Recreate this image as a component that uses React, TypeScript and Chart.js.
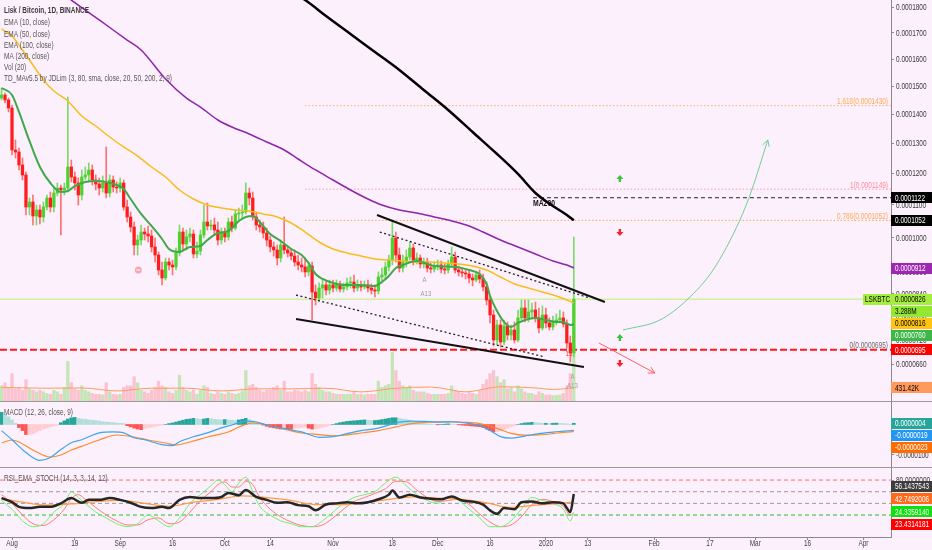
import React, { useEffect, useRef } from "react";
import { Chart, registerables, LinearScale } from "chart.js";

Chart.register(...registerables);

class SqrtScale extends LinearScale {
  static id = "sqrt";
  static defaults = LinearScale.defaults;
  getPixelForValue(value: number) {
    if (value === null || value === undefined || Number.isNaN(value)) return NaN;
    const a = Math.sqrt(this.min);
    const b = Math.sqrt(this.max);
    return this.getPixelForDecimal((Math.sqrt(Math.max(0, value)) - a) / (b - a));
  }
  getValueForPixel(pixel: number) {
    const a = Math.sqrt(this.min);
    const b = Math.sqrt(this.max);
    const s = a + this.getDecimalForPixel(pixel) * (b - a);
    return s * s;
  }
}
Chart.register(SqrtScale);

const FONT = "'Liberation Sans', Arial, sans-serif";
Chart.defaults.font.family = FONT;
Chart.defaults.font.size = 8;

const BG = "#fcf0fc";

// ---------- x axis (days since 1 Aug 2019) ----------
const X_MIN = -3.44;
const X_MAX = 251.9;
const X_TICK_DAYS = [0, 18, 31, 46, 61, 74, 92, 109, 122, 137, 153, 165, 184, 200, 213, 228, 244];
const X_TICK_LABELS = ["Aug", "19", "Sep", "16", "Oct", "14", "Nov", "18", "Dec", "16", "2020", "13", "Feb", "17", "Mar", "16", "Apr"];

// ---------- LSK/BTC daily candles (satoshis) ----------
const FIRST_DAY = -3;
const FIRST_OPEN = 14573;
const CLOSES = [
  14680, 14501, 14217, 12769, 12703, 12272, 11947, 10931, 11087, 10654,
  10839, 10623, 10931, 11212, 10931, 11369, 11528, 11464, 11528, 12207,
  11882, 11688, 11306, 11882, 11947, 12109, 11785, 11656, 11528, 11688,
  11369, 11785, 11559, 11528, 11688, 10931, 10623, 10320, 9785, 9932,
  10169, 10110, 10051, 9727, 9493, 9065, 8841, 9292, 9206, 9150,
  9552, 10169, 9815, 10021, 10110, 9522, 9610, 10080, 10471, 10350,
  10380, 10229, 9932, 10169, 10021, 10471, 10289, 10716, 10747, 10777,
  11369, 11212, 10623, 10380, 10320, 10140, 9932, 9727, 9639, 9406,
  9785, 9639, 9552, 9464, 9292, 9206, 9150, 9009, 9178, 8454,
  8291, 8563, 8648, 8508, 8648, 8563, 8675, 8535, 8593, 8703,
  8730, 8563, 8648, 8593, 8648, 8563, 8508, 8481, 8869, 8925,
  9150, 9349, 9991, 9493, 9121, 9292, 9435, 9697, 9349, 9406,
  9235, 9292, 9121, 9093, 9178, 9206, 9093, 9065, 9235, 9435,
  9065, 9009, 8981, 8953, 8841, 8785, 8925, 8813, 8593, 8237,
  7839, 7196, 7579, 7146, 7553, 7322, 7449, 7196, 7761, 8024,
  7761, 7919, 7971, 7761, 7501, 7839, 7631, 7527, 7657, 7709,
  7761, 7605, 7121, 6873, 8260,
];
const HIGHS = [
  14932, 14752, 14573, 14323, 13108, 12837, 12503, 12044, 11212, 11306,
  10993, 10993, 11087, 11306, 11401, 11528, 11688, 11623, 11688, 14608,
  12437, 12044, 11850, 12109, 12207, 12338, 12272, 11947, 11850, 11915,
  12871, 11947, 11915, 11721, 11850, 11785, 11149, 10777, 10471, 10080,
  10380, 10289, 10350, 10229, 9991, 9581, 9292, 9406, 9406, 9349,
  9697, 10380, 10289, 10229, 10289, 10229, 9873, 10229, 10993, 11056,
  10531, 10593, 10471, 10289, 10289, 10593, 10654, 10839, 10900, 10993,
  11688, 11528, 11401, 10777, 10531, 10471, 10289, 10051, 9873, 9785,
  9932, 10623, 9756, 9668, 9639, 9493, 9406, 9406, 9292, 9292,
  8648, 8703, 8785, 8785, 8785, 8785, 8785, 8758, 8703, 8841,
  8869, 8925, 8785, 8758, 8758, 8785, 8675, 8648, 9009, 9121,
  9292, 9493, 10531, 10169, 9697, 9493, 9639, 9873, 9815, 9552,
  9493, 9406, 9406, 9263, 9292, 9349, 9320, 9235, 9349, 9727,
  9581, 9178, 9121, 9093, 9065, 8953, 9009, 9065, 8953, 8730,
  8345, 7971, 7709, 7709, 7709, 7657, 7579, 7657, 7971, 8237,
  8237, 8237, 8157, 8184, 8024, 8077, 8024, 7761, 7813, 7866,
  7971, 7919, 7709, 7297, 10021,
];
const LOWS = [
  14501, 14394, 14077, 12602, 12503, 12109, 11785, 10685, 10685, 10380,
  10380, 10410, 10471, 10839, 10777, 10777, 11275, 10080, 11306, 11401,
  11721, 11464, 10993, 11149, 11785, 11721, 11623, 11464, 11306, 11401,
  11212, 11243, 11401, 11369, 11401, 10839, 10471, 10169, 9493, 9493,
  9785, 9932, 9873, 9581, 9292, 8925, 8648, 8785, 9065, 8925,
  9065, 9464, 9639, 9639, 9873, 9406, 9406, 9493, 9991, 10229,
  10229, 10080, 9785, 9815, 9873, 9932, 10169, 10229, 10531, 10593,
  10716, 10993, 10531, 10229, 10169, 9991, 9756, 9581, 9464, 9206,
  9292, 9522, 9435, 9349, 9178, 9065, 9009, 8869, 8897, 7709,
  8104, 8184, 8291, 8372, 8399, 8454, 8481, 8454, 8454, 8508,
  8563, 8454, 8481, 8481, 8535, 8454, 8399, 8318, 8399, 8703,
  8813, 9037, 9206, 9292, 9009, 9009, 9150, 9349, 9206, 9235,
  9121, 9121, 9009, 8981, 9009, 9065, 8981, 8953, 8981, 9150,
  8981, 8897, 8869, 8813, 8703, 8620, 8730, 8703, 8481, 8104,
  7631, 7046, 7071, 7021, 7071, 7196, 7196, 7121, 7146, 7709,
  7657, 7657, 7761, 7657, 7373, 7449, 7501, 7449, 7449, 7579,
  7631, 7527, 6997, 6654, 6775,
];
const VOLUMES_K = [
  500, 600, 450, 900, 400, 450, 350, 700, 400, 350,
  300, 350, 300, 250, 220, 350, 300, 220, 450, 1300,
  600, 400, 350, 500, 350, 300, 250, 220, 220, 200,
  600, 300, 220, 200, 220, 450, 500, 500, 800, 600,
  350, 300, 250, 350, 450, 650, 500, 450, 300, 250,
  350, 850, 450, 350, 300, 350, 220, 350, 500, 450,
  250, 220, 300, 250, 220, 300, 250, 220, 250, 330,
  1000, 500, 550, 450, 350, 300, 350, 350, 450, 500,
  350, 650, 300, 300, 350, 330, 300, 350, 300, 900,
  550, 450, 350, 300, 300, 250, 220, 220, 220, 220,
  220, 300, 220, 220, 200, 220, 220, 220, 650, 450,
  500, 550, 1600, 1000, 650, 500, 450, 500, 350, 300,
  300, 300, 250, 220, 220, 220, 220, 220, 250, 500,
  350, 300, 250, 220, 300, 250, 220, 350, 550, 700,
  900, 1000, 800, 600, 700, 400, 450, 300, 500, 400,
  300, 250, 250, 200, 300, 250, 200, 200, 180, 180,
  200, 250, 500, 900, 3288,
];
const VOLMA_DAYS = [-3, 10, 20, 30, 40, 50, 60, 70, 80, 90, 100, 110, 120, 130, 140, 150, 155, 161];
const VOLMA_K = [450, 420, 430, 330, 420, 420, 330, 400, 400, 420, 300, 420, 460, 300, 470, 430, 380, 431.42];

// ---------- moving averages (satoshis) ----------
const EMA10_DAYS = [-3, 0, 2, 5, 8, 11, 14, 16, 18, 21, 24, 27, 30, 32, 34, 37, 40, 43, 45, 48, 51, 54, 56, 59, 62, 65, 67, 69, 71, 74, 77, 80, 83, 85, 87, 89, 92, 95, 100, 104, 106, 108, 110, 112, 116, 121, 127, 131, 134, 136, 137, 139, 141, 143, 145, 147, 150, 153, 156, 158, 160, 161];
const EMA10_SATS = [14932, 14680, 14077, 13074, 12207, 11688, 11401, 11432, 11591, 11721, 11753, 11721, 11623, 11496, 11180, 10716, 10350, 9962, 9668, 9581, 9727, 9756, 9932, 10140, 10199, 10501, 10623, 10654, 10471, 10110, 9903, 9668, 9493, 9263, 8953, 8813, 8703, 8648, 8648, 8620, 8730, 8897, 9121, 9206, 9320, 9178, 9150, 9065, 8953, 8675, 8345, 7945, 7657, 7527, 7631, 7709, 7761, 7709, 7657, 7657, 7579, 7600];
const EMA50_DAYS = [-3, 0, 3, 6, 9, 12, 16, 20, 24, 28, 32, 36, 40, 44, 48, 52, 56, 60, 64, 68, 72, 76, 80, 84, 88, 92, 96, 100, 104, 108, 112, 116, 120, 124, 128, 132, 136, 140, 144, 148, 152, 156, 159, 161];
const EMA50_SATS = [17148, 16877, 16341, 15778, 15223, 14824, 14465, 13936, 13587, 13210, 12871, 12569, 12207, 11882, 11464, 11180, 10993, 10900, 10839, 10808, 10716, 10623, 10441, 10169, 9873, 9668, 9552, 9464, 9378, 9349, 9320, 9292, 9292, 9263, 9235, 9178, 9065, 8869, 8675, 8563, 8454, 8345, 8237, 8160];
const EMA100_DAYS = [14, 17, 25, 33, 37, 44, 50, 54, 59, 63, 68, 73, 78, 82, 87, 92, 97, 102, 106, 111, 116, 121, 126, 131, 135, 140, 145, 150, 155, 159, 161];
const EMA100_SATS = [18613, 18290, 17500, 16720, 16341, 15259, 14570, 14251, 13795, 13552, 13313, 13040, 12769, 12470, 12109, 11785, 11464, 11180, 10993, 10839, 10747, 10623, 10501, 10350, 10169, 9932, 9727, 9522, 9320, 9206, 9120];
const MA200_DAYS = [83, 84, 90, 97, 104, 111, 118, 125, 132, 139, 145, 150, 155, 159, 161];
const MA200_SATS = [18371, 18290, 17655, 16952, 16266, 15593, 14860, 14147, 13380, 12636, 11980, 11369, 10962, 10685, 10520];

// ---------- drawings ----------
const FIB_START_DAY = 84;
const FIB_1618 = 14300;
const FIB_1 = 11490;
const FIB_0786 = 10520;
const FIB_0 = 6950;
const LAST_PRICE = 8260;
const MA200_MARK = 11220;
const MA200_MARK_START = 149.3;
const UPPER_SOLID_DAYS = [104.6, 169.9];
const UPPER_SOLID_SATS = [10685, 8184];
const LOWER_SOLID_DAYS = [81.4, 163.9];
const LOWER_SOLID_SATS = [7735, 6533];
const UPPER_DOTTED_DAYS = [105.4, 165.6];
const UPPER_DOTTED_SATS = [10169, 8291];
const LOWER_DOTTED_DAYS = [81.4, 152.7];
const LOWER_DOTTED_SATS = [8372, 6775];
const GREEN_CURVE_DAYS = [175.1, 185.7, 193.4, 200.9, 208.6, 212, 216.6];
const GREEN_CURVE_SATS = [7449, 7709, 8237, 9065, 10531, 11464, 13108];
const RED_ARROW_DAYS = [168.2, 184.2];
const RED_ARROW_SATS = [7121, 6390];
const MARKER_DAY = 174.2;
const MARKERS_UP = [11817, 7247];
const MARKERS_DOWN = [10169, 6630];
// small TD-indicator annotations: [day, price, text]
const TD_NOTES_DAYS = [118.2, 118.6, 159.6, 160.6, 160.6];
const TD_NOTES_SATS = [8790, 8400, 6860, 6300, 6080];
const TD_NOTES_TEXT = ["A", "A13", "13", "A", "A13"];
const SELL_DOT_DAY = 36.2;
const SELL_DOT_SATS = 9065;
const MAIN_TICKS = [18000, 17000, 16000, 15000, 14000, 13000, 12000, 11000, 10000, 9000, 8400, 7800, 7200, 6600];

// ---------- MACD (satoshis) ----------
const MACD_DAYS = [-3, 0, 4, 8, 11, 14, 17, 20, 22, 25, 29, 32, 35, 38, 40, 43, 46, 48, 52, 56, 60, 63, 67, 70, 73, 77, 80, 83, 88, 92, 96, 100, 105, 110, 114, 118, 122, 126, 130, 134, 137, 140, 143, 147, 151, 155, 158, 161];
const MACD_SATS = [-200, -500, -919, -1177, -1081, -823, -597, -500, -403, -274, -242, -274, -435, -500, -565, -661, -694, -565, -403, -274, -113, -16, 113, 81, -16, -113, -177, -242, -420, -400, -300, -200, -120, 50, 110, 100, 80, 90, 50, -30, -200, -400, -450, -380, -300, -250, -220, -190];
const SIGNAL_DAYS = [-3, 0, 2, 6, 11, 14, 17, 21, 25, 30, 35, 39, 44, 47, 51, 56, 62, 65, 69, 73, 79, 83, 88, 92, 96, 100, 105, 110, 114, 118, 122, 126, 130, 134, 137, 140, 143, 147, 151, 155, 158, 161];
const SIGNAL_SATS = [-607, -508, -574, -836, -1066, -1000, -836, -672, -508, -344, -410, -508, -607, -672, -574, -410, -246, -82, 49, -16, -180, -279, -330, -370, -340, -280, -200, -80, 20, 70, 85, 85, 70, 30, -50, -170, -290, -350, -340, -300, -260, -230];
const HIST_SATS = [
  400, 330, 250, 150, 40, -100, -200, -330, -330, -300,
  -250, -200, -150, -120, -80, -50, -30, 60, 120, 180,
  220, 230, 200, 180, 170, 150, 140, 130, 110, 90,
  80, 70, 60, 50, 40, 30, -40, -80, -120, -150,
  -170, -140, -110, -90, -60, -40, -20, 0, 30, 50,
  80, 110, 140, 170, 180, 200, 190, 170, 180, 200,
  190, 170, 160, 150, 160, 150, 140, 130, 150, 170,
  200, 160, 120, 80, 40, -20, -60, -90, -110, -130,
  -150, -120, -140, -150, -130, -110, -100, -80, -120, -150,
  -140, -120, -90, -60, -30, 0, 30, 60, 80, 100,
  110, 120, 130, 140, 150, 140, 130, 130, 140, 160,
  180, 200, 220, 220, 200, 180, 160, 140, 110, 80,
  60, 40, 20, 10, 0, -10, 0, 10, 20, 10,
  0, -10, -20, -30, -40, -50, -60, -70, -100, -150,
  -200, -240, -230, -200, -160, -120, -80, -40, 0, 30,
  50, 60, 70, 60, 50, 40, 40, 35, 40, 45,
  40, 30, 20, 10, 40,
];

// ---------- RSI / EMA / Stoch ----------
const RSI_DAYS = [-3, 0, 2, 5, 8, 11, 14, 17, 20, 22, 25, 28, 31, 34, 37, 40, 43, 45, 48, 51, 54, 57, 60, 62, 65, 67, 70, 73, 76, 79, 82, 85, 87, 90, 93, 96, 99, 102, 105, 108, 109, 111, 114, 117, 120, 123, 126, 129, 132, 135, 137, 139, 141, 144, 146, 149, 152, 155, 158, 159, 160, 161];
const RSI_VALUES = [49, 42, 34, 32, 34, 34, 40, 49, 41, 46, 46, 49, 46, 41, 34, 32, 34, 32, 46, 51, 49, 49, 51, 58, 54, 63, 51, 46, 41, 42, 37, 35, 28, 38, 40, 42, 40, 42, 47, 55, 62, 50, 55, 50, 48, 47, 52, 45, 43, 38, 28, 22, 32, 30, 42, 43, 40, 42, 40, 32, 25, 56.14];
const RSI_EMA_DAYS = [-3, 3, 10, 17, 24, 31, 38, 45, 52, 59, 66, 73, 80, 87, 94, 101, 108, 115, 122, 129, 136, 143, 150, 157, 161];
const RSI_EMA_VALUES = [49, 42, 37, 39, 43, 45, 40, 35, 42, 47, 53, 50, 45, 38, 38, 41, 47, 51, 49, 47, 41, 33, 37, 40, 42.75];
const STOCH_DAYS = [-3, 0, 3, 6, 9, 12, 15, 17, 19, 21, 24, 27, 30, 33, 36, 39, 42, 45, 48, 51, 54, 57, 59, 61, 63, 65, 67, 69, 71, 74, 77, 80, 83, 86, 89, 92, 95, 98, 101, 104, 107, 110, 113, 116, 119, 122, 125, 128, 131, 134, 137, 140, 143, 146, 149, 152, 155, 158, 160, 161];
const STOCH_K = [45, 30, 10, 0, 5, 25, 40, 60, 50, 40, 25, 15, 5, 0, 5, 20, 10, 0, 15, 40, 55, 70, 80, 72, 60, 75, 85, 60, 35, 20, 10, 5, 0, 0, 10, 25, 40, 50, 55, 60, 75, 85, 70, 55, 45, 40, 50, 45, 30, 15, 0, 0, 10, 30, 50, 45, 40, 30, 10, 24.34];
const STOCH_D = [55, 40, 20, 5, 2, 12, 30, 48, 55, 47, 33, 20, 10, 3, 3, 12, 15, 5, 8, 25, 45, 60, 72, 77, 68, 68, 78, 72, 50, 30, 17, 8, 2, 0, 3, 15, 30, 43, 50, 57, 65, 78, 77, 63, 50, 43, 45, 47, 38, 22, 8, 0, 3, 17, 38, 47, 43, 35, 20, 23.43];
const RSI_LEVELS = [80, 60, 40, 20];

// ---------- helpers ----------
const DAYS = CLOSES.map((_, i) => FIRST_DAY + i);
const OPENS = CLOSES.map((_, i) => (i === 0 ? FIRST_OPEN : CLOSES[i - 1]));
const UP = CLOSES.map((c, i) => c >= OPENS[i]);
const xy = (xs: number[], ys: number[]) => xs.map((x, i) => ({ x, y: ys[i] }));
const fmtPrice = (v: number) => (v / 1e8).toFixed(7);

// condensed text (TradingView uses a narrow UI font)
function txt(ctx: CanvasRenderingContext2D, s: string, x: number, y: number, opt: any = {}) {
  ctx.save();
  ctx.font = `${opt.bold ? "bold " : ""}${opt.size || 8.5}px ${FONT}`;
  ctx.fillStyle = opt.color || "#333";
  ctx.textBaseline = "middle";
  ctx.textAlign = opt.align || "left";
  ctx.translate(x, y);
  ctx.scale(opt.sx || 0.76, 1);
  ctx.fillText(s, 0, 0);
  ctx.restore();
}

function lineDs(xs: number[], ys: number[], color: string, width: number, extra: any = {}) {
  return {
    type: "line",
    data: xy(xs, ys),
    borderColor: color,
    borderWidth: width,
    pointRadius: 0,
    fill: false,
    tension: 0,
    ...extra,
  };
}

const xScaleHidden = { type: "linear", min: X_MIN, max: X_MAX, display: false, offset: false };

function rightAxis(min: number, max: number, ticks: number[], type = "linear") {
  return {
    type,
    position: "right",
    min,
    max,
    afterBuildTicks: (s: any) => {
      s.ticks = ticks.map((v) => ({ value: v }));
    },
    afterFit: (s: any) => {
      s.width = 41;
      s.paddingTop = 0;
      s.paddingBottom = 0;
    },
    ticks: { display: false, autoSkip: false },
    grid: { drawOnChartArea: false, drawTicks: true, tickLength: 3, color: "#8a8a8a" },
    border: { display: true, color: "#8a8a8a" },
  };
}

function drawAxisLabels(chart: any, fmt: (v: number) => string) {
  const ys = chart.scales.y;
  ys.ticks.forEach((t: any) => txt(chart.ctx, fmt(t.value), 896, ys.getPixelForValue(t.value) + 0.5, { color: "#3a3a3a" }));
}

function drawTag(ctx: CanvasRenderingContext2D, y: number, text: string, bg: string, fg: string, prefix?: string) {
  ctx.fillStyle = bg;
  if (prefix) ctx.fillRect(863, Math.round(y - 5.5), 28, 11);
  ctx.fillRect(891, Math.round(y - 5.5), 41, 11);
  if (prefix) txt(ctx, prefix, 865, y + 0.5, { color: fg });
  txt(ctx, text, 895, y + 0.5, { color: fg });
}

function spreadDown(ys: number[], gap: number) {
  const out: number[] = [];
  ys.forEach((y, i) => out.push(i === 0 ? y : Math.max(y, out[i - 1] + gap)));
  return out;
}

function spreadCenter(ys: number[], gap: number) {
  let groups = ys.map((y) => ({ start: y, n: 1, sum: y }));
  let merged = true;
  while (merged) {
    merged = false;
    for (let i = 0; i < groups.length - 1; i++) {
      const a = groups[i];
      const b = groups[i + 1];
      if (b.start < a.start + (a.n - 1) * gap + gap) {
        const n = a.n + b.n;
        const sum = a.sum + b.sum;
        groups.splice(i, 2, { start: sum / n - ((n - 1) * gap) / 2, n, sum });
        merged = true;
        break;
      }
    }
  }
  const out: number[] = [];
  groups.forEach((g) => {
    for (let k = 0; k < g.n; k++) out.push(g.start + k * gap);
  });
  return out;
}

function arrowHead(ctx: CanvasRenderingContext2D, x1: number, y1: number, x2: number, y2: number, color: string, size = 7) {
  const ang = Math.atan2(y2 - y1, x2 - x1);
  ctx.strokeStyle = color;
  ctx.lineWidth = 1;
  ctx.beginPath();
  ctx.moveTo(x2 - size * Math.cos(ang - 0.5), y2 - size * Math.sin(ang - 0.5));
  ctx.lineTo(x2, y2);
  ctx.lineTo(x2 - size * Math.cos(ang + 0.5), y2 - size * Math.sin(ang + 0.5));
  ctx.stroke();
}

function markerArrow(ctx: CanvasRenderingContext2D, cx: number, cy: number, up: boolean, color: string) {
  const d = up ? 1 : -1;
  ctx.fillStyle = color;
  ctx.beginPath();
  ctx.moveTo(cx, cy - 4 * d);
  ctx.lineTo(cx + 3.5, cy);
  ctx.lineTo(cx + 1.2, cy);
  ctx.lineTo(cx + 1.2, cy + 3 * d);
  ctx.lineTo(cx - 1.2, cy + 3 * d);
  ctx.lineTo(cx - 1.2, cy);
  ctx.lineTo(cx - 3.5, cy);
  ctx.closePath();
  ctx.fill();
}

// ---------- main pane ----------
const mainOverlay = {
  id: "mainOverlay",
  afterDatasetsDraw(chart: any) {
    const { ctx } = chart;
    const xs = chart.scales.x;
    const ys = chart.scales.y;
    ctx.save();
    // legend
    txt(ctx, "Lisk / Bitcoin, 1D, BINANCE", 4, 11, { bold: true, color: "#3c3c3c" });
    const legend = ["EMA (10, close)", "EMA (50, close)", "EMA (100, close)", "MA (200, close)", "Vol (20)", "TD_MAv5.5 by JDLim (3, 80, sma, close, 20, 50, 200, 2, 9)"];
    legend.forEach((t, i) => txt(ctx, t, 4, 23 + i * 11.2, { color: "#555" }));

    // fib labels
    const fib = (t: string, v: number, c: string) => txt(ctx, t, 888, ys.getPixelForValue(v) - 4, { color: c, align: "right" });
    fib("1.618(0.0001430)", FIB_1618, "#ffab55");
    fib("1(0.0001149)", FIB_1, "#ff8a9a");
    fib("0.786(0.0001052)", FIB_0786, "#ffab55");
    fib("0(0.0000695)", FIB_0, "#6a6a6a");

    // MA200 label
    txt(ctx, "MA200", xs.getPixelForValue(MA200_MARK_START), ys.getPixelForValue(MA200_MARK) + 6, { bold: true, color: "#111", size: 9 });

    // TD notes
    TD_NOTES_TEXT.forEach((t, i) => {
      const isRed = t === "13" && i === 2;
      txt(ctx, t, xs.getPixelForValue(TD_NOTES_DAYS[i]), ys.getPixelForValue(TD_NOTES_SATS[i]), { color: isRed ? "#ff3030" : "#a0a0a0", size: 8, align: "center" });
    });
    const sx = xs.getPixelForValue(SELL_DOT_DAY);
    const sy = ys.getPixelForValue(SELL_DOT_SATS);
    ctx.fillStyle = "#f4a7b0";
    ctx.beginPath();
    ctx.arc(sx, sy, 3.5, 0, Math.PI * 2);
    ctx.fill();
    ctx.fillStyle = "#fff";
    ctx.fillRect(sx - 2, sy - 0.5, 4, 1);

    // arrow heads
    const n = GREEN_CURVE_DAYS.length;
    arrowHead(ctx, xs.getPixelForValue(GREEN_CURVE_DAYS[n - 2]), ys.getPixelForValue(GREEN_CURVE_SATS[n - 2]), xs.getPixelForValue(GREEN_CURVE_DAYS[n - 1]), ys.getPixelForValue(GREEN_CURVE_SATS[n - 1]), "#6fcf8f");
    arrowHead(ctx, xs.getPixelForValue(RED_ARROW_DAYS[0]), ys.getPixelForValue(RED_ARROW_SATS[0]), xs.getPixelForValue(RED_ARROW_DAYS[1]), ys.getPixelForValue(RED_ARROW_SATS[1]), "#ff6060");

    // markers
    const mx = xs.getPixelForValue(MARKER_DAY);
    MARKERS_UP.forEach((v) => markerArrow(ctx, mx, ys.getPixelForValue(v), true, "#3cc23c"));
    MARKERS_DOWN.forEach((v) => markerArrow(ctx, mx, ys.getPixelForValue(v), false, "#ff2020"));
    ctx.restore();
  },
  afterDraw(chart: any) {
    const { ctx } = chart;
    const ys = chart.scales.y;
    const yv = chart.scales.yv;
    ctx.save();
    drawAxisLabels(chart, fmtPrice);
    const tags = [
      { y: ys.getPixelForValue(MA200_MARK), text: fmtPrice(MA200_MARK), bg: "#000", fg: "#fff" },
      { y: ys.getPixelForValue(MA200_SATS[MA200_SATS.length - 1]), text: fmtPrice(MA200_SATS[MA200_SATS.length - 1]), bg: "#000", fg: "#fff" },
      { y: ys.getPixelForValue(EMA100_SATS[EMA100_SATS.length - 1]), text: fmtPrice(EMA100_SATS[EMA100_SATS.length - 1]), bg: "#9c27b0", fg: "#fff" },
      { y: ys.getPixelForValue(LAST_PRICE), text: fmtPrice(LAST_PRICE), bg: "#a6ee3e", fg: "#000", prefix: "LSKBTC" },
      { y: yv.getPixelForValue(VOLUMES_K[VOLUMES_K.length - 1]), text: "3.288M", bg: "#95e830", fg: "#000" },
      { y: ys.getPixelForValue(EMA50_SATS[EMA50_SATS.length - 1]), text: fmtPrice(EMA50_SATS[EMA50_SATS.length - 1]), bg: "#ffc410", fg: "#000" },
      { y: ys.getPixelForValue(EMA10_SATS[EMA10_SATS.length - 1]), text: fmtPrice(EMA10_SATS[EMA10_SATS.length - 1]), bg: "#3db848", fg: "#fff" },
      { y: ys.getPixelForValue(FIB_0), text: fmtPrice(FIB_0), bg: "#ff0000", fg: "#fff" },
      { y: yv.getPixelForValue(VOLMA_K[VOLMA_K.length - 1]), text: "431.42K", bg: "#ff9a5c", fg: "#000" },
    ].sort((a, b) => a.y - b.y);
    const pos = spreadDown(tags.map((t) => t.y), 12);
    tags.forEach((t, i) => drawTag(ctx, pos[i], t.text, t.bg, t.fg, (t as any).prefix));
    ctx.restore();
  },
};

function mainConfig(): any {
  const volColors = UP.map((u) => (u ? "rgba(128, 214, 96, 0.45)" : "rgba(250, 128, 140, 0.40)"));
  const wickColors = UP.map((u) => (u ? "#7bd86a" : "#ff7070"));
  const bodyColors = UP.map((u) => (u ? "#4fd12f" : "#ff1c1c"));
  const full = [X_MIN, X_MAX];
  return {
    type: "bar",
    data: {
      datasets: [
        { type: "bar", data: xy(DAYS, VOLUMES_K), yAxisID: "yv", backgroundColor: volColors, barThickness: 2.6, grouped: false, order: 30 },
        { ...lineDs(VOLMA_DAYS, VOLMA_K, "#ff9a5c", 1, { cubicInterpolationMode: "monotone" }), yAxisID: "yv", order: 29 },
        { ...lineDs(full, [LAST_PRICE, LAST_PRICE], "#b8f07a", 1), yAxisID: "y", order: 26 },
        { ...lineDs(full, [FIB_0, FIB_0], "#ff1a1a", 2, { borderDash: [7, 3] }), yAxisID: "y", order: 25 },
        { ...lineDs([FIB_START_DAY, X_MAX], [FIB_1618, FIB_1618], "#ffb060", 1, { borderDash: [1.5, 2] }), yAxisID: "y", order: 24 },
        { ...lineDs([FIB_START_DAY, X_MAX], [FIB_1, FIB_1], "#ff9aa8", 1, { borderDash: [1.5, 2] }), yAxisID: "y", order: 24 },
        { ...lineDs([FIB_START_DAY, X_MAX], [FIB_0786, FIB_0786], "#ffa640", 1, { borderDash: [1.5, 2] }), yAxisID: "y", order: 24 },
        { ...lineDs([MA200_MARK_START, X_MAX], [MA200_MARK, MA200_MARK], "#222", 1, { borderDash: [4, 3] }), yAxisID: "y", order: 23 },
        { type: "bar", data: DAYS.map((d, i) => ({ x: d, y: [LOWS[i], HIGHS[i]] })), yAxisID: "y", backgroundColor: wickColors, barThickness: 1, grouped: false, order: 12 },
        { type: "bar", data: DAYS.map((d, i) => ({ x: d, y: [OPENS[i], CLOSES[i]] })), yAxisID: "y", backgroundColor: bodyColors, barThickness: 2.6, minBarLength: 1, grouped: false, order: 11 },
        { ...lineDs(EMA100_DAYS, EMA100_SATS, "#8e24aa", 1.5, { cubicInterpolationMode: "monotone" }), yAxisID: "y", order: 5 },
        { ...lineDs(MA200_DAYS, MA200_SATS, "#000", 2.5, { cubicInterpolationMode: "monotone" }), yAxisID: "y", order: 4 },
        { ...lineDs(EMA50_DAYS, EMA50_SATS, "#f9bd1a", 1.5, { cubicInterpolationMode: "monotone" }), yAxisID: "y", order: 3 },
        { ...lineDs(EMA10_DAYS, EMA10_SATS, "#3fa84a", 2, { cubicInterpolationMode: "monotone" }), yAxisID: "y", order: 2 },
        { ...lineDs(UPPER_SOLID_DAYS, UPPER_SOLID_SATS, "#111", 2), yAxisID: "y", order: 1 },
        { ...lineDs(LOWER_SOLID_DAYS, LOWER_SOLID_SATS, "#111", 2), yAxisID: "y", order: 1 },
        { ...lineDs(UPPER_DOTTED_DAYS, UPPER_DOTTED_SATS, "#222", 1.3, { borderDash: [2, 2.5] }), yAxisID: "y", order: 1 },
        { ...lineDs(LOWER_DOTTED_DAYS, LOWER_DOTTED_SATS, "#222", 1.3, { borderDash: [2, 2.5] }), yAxisID: "y", order: 1 },
        { ...lineDs(GREEN_CURVE_DAYS, GREEN_CURVE_SATS, "#6fcf8f", 1, { cubicInterpolationMode: "monotone" }), yAxisID: "y", order: 1 },
        { ...lineDs(RED_ARROW_DAYS, RED_ARROW_SATS, "#ff6060", 1), yAxisID: "y", order: 1 },
      ],
    },
    options: {
      responsive: false,
      animation: false,
      devicePixelRatio: 1,
      layout: { padding: 0 },
      plugins: { legend: { display: false }, tooltip: { enabled: false } },
      scales: {
        x: xScaleHidden,
        y: rightAxis(5743, 18292, MAIN_TICKS, "sqrt"),
        yv: { type: "linear", display: false, min: 0, max: 13185 },
      },
    },
    plugins: [mainOverlay],
  };
}

// ---------- MACD pane ----------
const macdOverlay = {
  id: "macdOverlay",
  afterDatasetsDraw(chart: any) {
    txt(chart.ctx, "MACD (12, 26, close, 9)", 4, 12, { color: "#555" });
  },
  afterDraw(chart: any) {
    const { ctx } = chart;
    const ys = chart.scales.y;
    ctx.save();
    ctx.fillStyle = "#9a9a9a";
    ctx.fillRect(0, 0, 932, 1);
    drawAxisLabels(chart, fmtPrice);
    const h = HIST_SATS[HIST_SATS.length - 1];
    const m = MACD_SATS[MACD_SATS.length - 1];
    const s = SIGNAL_SATS[SIGNAL_SATS.length - 1];
    const tags = [
      { y: ys.getPixelForValue(h), text: fmtPrice(h), bg: "#26a69a", fg: "#fff" },
      { y: ys.getPixelForValue(m), text: fmtPrice(m), bg: "#2196f3", fg: "#fff" },
      { y: ys.getPixelForValue(s), text: fmtPrice(s), bg: "#ff6d00", fg: "#fff" },
    ].sort((a, b) => a.y - b.y);
    const pos = spreadDown(tags.map((t) => t.y), 12);
    tags.forEach((t, i) => drawTag(ctx, pos[i], t.text, t.bg, t.fg));
    ctx.restore();
  },
};

function macdConfig(): any {
  const histColors = HIST_SATS.map((v, i) => {
    const prev = i > 0 ? HIST_SATS[i - 1] : v;
    if (v >= 0) return v >= prev ? "#26a69a" : "#b2dfdb";
    return v < prev ? "#ff5252" : "#ffcdd2";
  });
  return {
    type: "bar",
    data: {
      datasets: [
        { type: "bar", data: xy(DAYS, HIST_SATS), backgroundColor: histColors, barThickness: 3, grouped: false, order: 10 },
        { ...lineDs(SIGNAL_DAYS, SIGNAL_SATS, "#ff8a2a", 1.2, { cubicInterpolationMode: "monotone" }), order: 2 },
        { ...lineDs(MACD_DAYS, MACD_SATS, "#3aa6f0", 1.2, { cubicInterpolationMode: "monotone" }), order: 1 },
      ],
    },
    options: {
      responsive: false,
      animation: false,
      devicePixelRatio: 1,
      layout: { padding: 0 },
      plugins: { legend: { display: false }, tooltip: { enabled: false } },
      scales: {
        x: xScaleHidden,
        y: rightAxis(-1394, 770, [-1000]),
      },
    },
    plugins: [macdOverlay],
  };
}

// ---------- RSI pane ----------
const rsiOverlay = {
  id: "rsiOverlay",
  afterDatasetsDraw(chart: any) {
    txt(chart.ctx, "RSI_EMA_STOCH (14, 3, 3, 14, 12)", 4, 12, { color: "#555" });
  },
  afterDraw(chart: any) {
    const { ctx } = chart;
    const ys = chart.scales.y;
    const xs = chart.scales.x;
    ctx.save();
    ctx.fillStyle = "#9a9a9a";
    ctx.fillRect(0, 0, 932, 1);
    drawAxisLabels(chart, (v: number) => v.toFixed(7));
    xs.ticks.forEach((t: any, i: number) => txt(ctx, X_TICK_LABELS[i], xs.getPixelForValue(t.value), 76.5, { color: "#444", align: "center" }));
    const r = RSI_VALUES[RSI_VALUES.length - 1];
    const e = RSI_EMA_VALUES[RSI_EMA_VALUES.length - 1];
    const k = STOCH_K[STOCH_K.length - 1];
    const d = STOCH_D[STOCH_D.length - 1];
    const tags = [
      { y: ys.getPixelForValue(r), text: "56.1437543", bg: "#3d3d3d", fg: "#fff" },
      { y: ys.getPixelForValue(e), text: "42.7492006", bg: "#ff6a1a", fg: "#fff" },
      { y: ys.getPixelForValue(k), text: "24.3359140", bg: "#10e010", fg: "#fff" },
      { y: ys.getPixelForValue(d), text: "23.4314181", bg: "#ff0000", fg: "#fff" },
    ].sort((a, b) => a.y - b.y);
    const pos = spreadCenter(tags.map((t) => t.y), 12.7);
    tags.forEach((t, i) => drawTag(ctx, pos[i], t.text, t.bg, t.fg));
    ctx.restore();
  },
};

function rsiConfig(): any {
  const levelColors = ["#ff6b6b", "#9a9a9a", "#9a9a9a", "#22c022"];
  const full = [X_MIN, X_MAX];
  return {
    type: "line",
    data: {
      datasets: [
        ...RSI_LEVELS.map((lv, i) => ({ ...lineDs(full, [lv, lv], levelColors[i], 1, { borderDash: [4, 3] }), order: 20 })),
        { ...lineDs(STOCH_DAYS, STOCH_D, "#ff7a7a", 1, { cubicInterpolationMode: "monotone" }), order: 5 },
        { ...lineDs(STOCH_DAYS, STOCH_K, "#6cf06c", 1, { cubicInterpolationMode: "monotone" }), order: 4 },
        { ...lineDs(RSI_EMA_DAYS, RSI_EMA_VALUES, "#ff9a40", 1.2, { cubicInterpolationMode: "monotone" }), order: 3 },
        { ...lineDs(RSI_DAYS, RSI_VALUES, "#262626", 2.5, { cubicInterpolationMode: "monotone" }), order: 1 },
      ],
    },
    options: {
      responsive: false,
      animation: false,
      devicePixelRatio: 1,
      layout: { padding: 0 },
      plugins: { legend: { display: false }, tooltip: { enabled: false } },
      scales: {
        x: {
          type: "linear",
          min: X_MIN,
          max: X_MAX,
          offset: false,
          position: "bottom",
          afterBuildTicks: (s: any) => {
            s.ticks = X_TICK_DAYS.map((v) => ({ value: v }));
          },
          afterFit: (s: any) => {
            s.height = 13;
            s.paddingLeft = 0;
            s.paddingRight = 0;
          },
          ticks: { display: false, autoSkip: false, maxRotation: 0, minRotation: 0 },
          grid: { drawOnChartArea: false, drawTicks: true, tickLength: 3, color: "#8a8a8a" },
          border: { display: true, color: "#8a8a8a" },
        },
        y: rightAxis(-17.7, 102.4, [80]),
      },
    },
    plugins: [rsiOverlay],
  };
}

export default function App() {
  const mainRef = useRef<HTMLCanvasElement>(null);
  const macdRef = useRef<HTMLCanvasElement>(null);
  const rsiRef = useRef<HTMLCanvasElement>(null);

  useEffect(() => {
    const charts = [
      new Chart(mainRef.current as HTMLCanvasElement, mainConfig()),
      new Chart(macdRef.current as HTMLCanvasElement, macdConfig()),
      new Chart(rsiRef.current as HTMLCanvasElement, rsiConfig()),
    ];
    return () => charts.forEach((c) => c.destroy());
  }, []);

  return (
    <div style={{ position: "fixed", left: 0, top: 0, width: 932, height: 550, background: BG, overflow: "hidden" }}>
      <canvas ref={mainRef} width={932} height={401} style={{ position: "absolute", left: 0, top: 0 }} />
      <canvas ref={macdRef} width={932} height={66} style={{ position: "absolute", left: 0, top: 401 }} />
      <canvas ref={rsiRef} width={932} height={83} style={{ position: "absolute", left: 0, top: 467 }} />
    </div>
  );
}
